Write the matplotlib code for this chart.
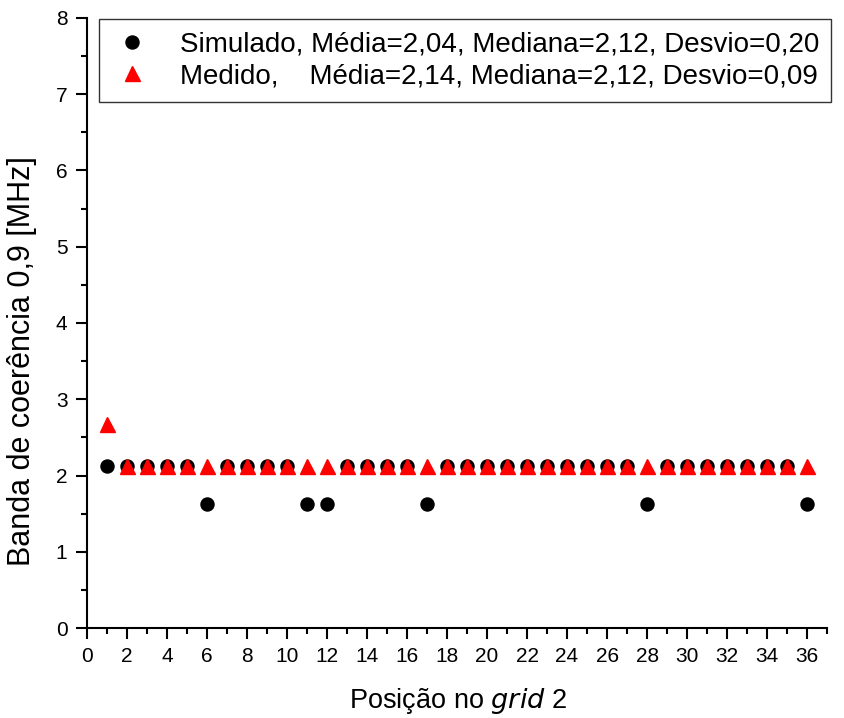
import matplotlib
matplotlib.use("Agg")
import matplotlib.pyplot as plt
from matplotlib.ticker import MultipleLocator

plt.rcParams['font.family'] = ['Liberation Sans', 'DejaVu Sans']

posicao = list(range(1, 37))
simulado = [2.12, 2.12, 2.12, 2.12, 2.12, 1.62, 2.12, 2.12, 2.12, 2.12,
            1.62, 1.62, 2.12, 2.12, 2.12, 2.12, 1.62, 2.12, 2.12, 2.12,
            2.12, 2.12, 2.12, 2.12, 2.12, 2.12, 2.12, 1.62, 2.12, 2.12,
            2.12, 2.12, 2.12, 2.12, 2.12, 1.62]
medido = [2.68] + [2.12] * 35

rotulo_sim = "Simulado, Média=2,04, Mediana=2,12, Desvio=0,20"
rotulo_med = "Medido,    Média=2,14, Mediana=2,12, Desvio=0,09"

fig = plt.figure(figsize=(8.44, 7.18), dpi=100)
ax = fig.add_axes([0.103, 0.1253, 0.877, 0.8497])

ax.plot(posicao, simulado, linestyle='none', marker='o', markersize=9.4,
        color='black', label=rotulo_sim, zorder=3)
ax.plot(posicao, medido, linestyle='none', marker='^', markersize=10.8,
        color='red', label=rotulo_med, zorder=4)

ax.set_xlim(0, 37)
ax.set_ylim(0, 8)
ax.xaxis.set_major_locator(MultipleLocator(2))
ax.xaxis.set_minor_locator(MultipleLocator(1))
ax.yaxis.set_major_locator(MultipleLocator(1))
ax.yaxis.set_minor_locator(MultipleLocator(0.5))

for side in ('top', 'right'):
    ax.spines[side].set_visible(False)
for side in ('left', 'bottom'):
    ax.spines[side].set_linewidth(1.5)

ax.tick_params(which='major', direction='out', length=8, width=1.5,
               labelsize=15, pad=6)
ax.tick_params(which='minor', direction='out', length=4, width=1.5)

ax.set_xlabel("Posição no $\\it{grid}$ 2", fontsize=19.5)
ax.xaxis.set_label_coords(0.501, -0.095)
ax.set_ylabel("Banda de coerência 0,9 [MHz]", fontsize=22)
ax.yaxis.set_label_coords(-0.068, 0.437)

leg = ax.legend(loc='upper left', bbox_to_anchor=(99 / 844, 1 - 19 / 718),
                bbox_transform=fig.transFigure, fontsize=20, frameon=True,
                fancybox=False, edgecolor='black', borderpad=0.45,
                handletextpad=1.0, labelspacing=0.2, borderaxespad=0.0,
                handlelength=1.45)
leg.get_frame().set_linewidth(1.0)

fig.savefig("out.png", dpi=100)
